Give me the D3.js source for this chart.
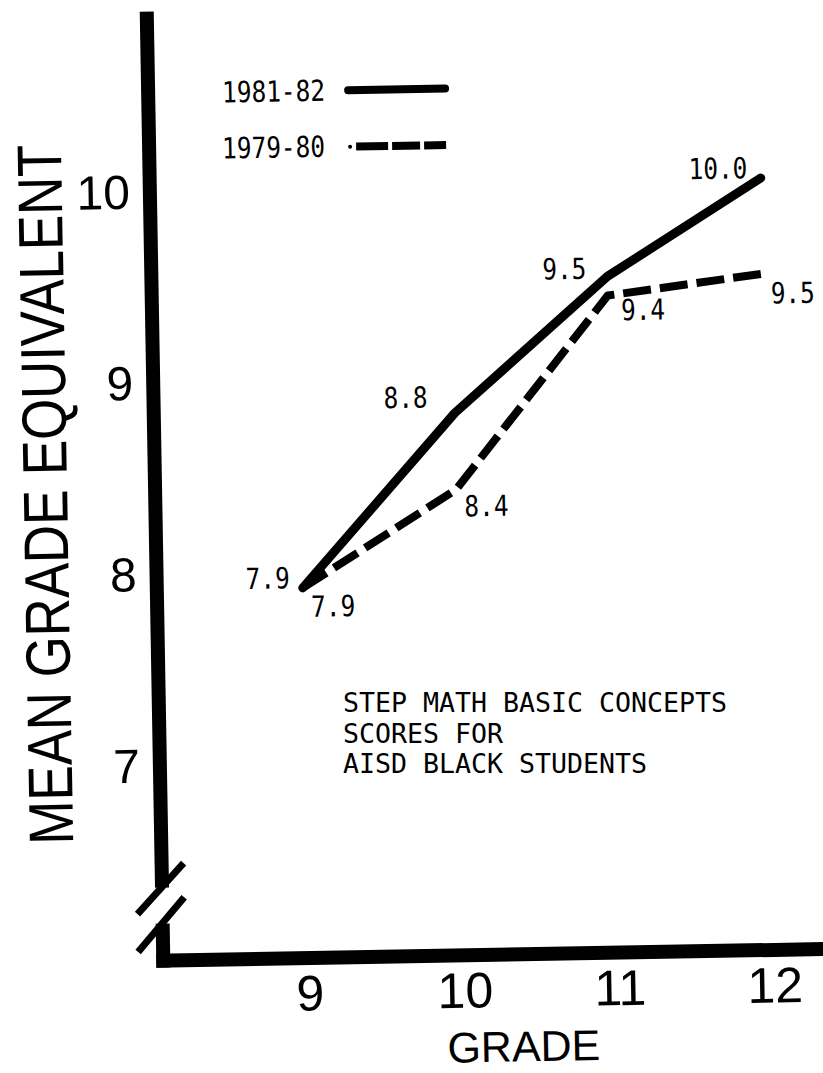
<!DOCTYPE html>
<html>
<head>
<meta charset="utf-8">
<script src="https://cdn.jsdelivr.net/npm/d3@7"></script>
<style>
  body { margin: 0; background: #fff; }
</style>
</head>
<body>
<div id="chart"></div>
<script>
// values
var grades = [9, 10, 11, 12];
var scores8182 = [7.9, 8.8, 9.5, 10.0];
var scores7980 = [7.9, 8.4, 9.4, 9.5];
var yTicks = [7, 8, 9, 10];
var seriesNames = ["1981-82", "1979-80"];
var noteLines = ["STEP MATH BASIC CONCEPTS", "SCORES FOR", "AISD BLACK STUDENTS"];
var xTitle = "GRADE";
var yTitle = "MEAN GRADE EQUIVALENT";

function drawChart(contId) {
    var w = 823;
    var h = 1073;
    var sansFont = "'Liberation Sans', Arial, Helvetica, sans-serif";
    var typeFont = "'DejaVu Sans Mono', 'Liberation Mono', monospace"; // closest thing to the typewriter text

    var svg = d3.select(contId)
        .append("svg")
        .attr("width", w)
        .attr("height", h);

    svg.append("rect").attr("width", w).attr("height", h).attr("fill", "#fff");

    // the scan is a little crooked, so tilt everything by a degree
    var g = svg.append("g")
        .attr("transform", "rotate(-1, 480, 540)");

    var x = d3.scaleLinear().domain([9, 12]).range([302, 767]);
    var y = d3.scaleLinear().domain([7, 10]).range([757, 183]);

    var axisX = 156;  // left axis position
    var axisY = 955;  // bottom axis position
    var axisW = 14;   // thick hand drawn look

    // typed text helper, squeezes the mono font a bit
    function typed(sel, str, px, py, adv, size) {
        return sel.append("text")
            .attr("x", px)
            .attr("y", py)
            .attr("textLength", str.length * adv)
            .attr("lengthAdjust", "spacingAndGlyphs")
            .style("font-family", typeFont)
            .style("font-size", size + "px")
            .style("fill", "#000")
            .text(str);
    }

    // left axis with a break near the bottom
    g.append("line")
        .attr("x1", axisX).attr("x2", axisX)
        .attr("y1", 6).attr("y2", 882)
        .attr("stroke", "#000").attr("stroke-width", axisW);
    g.append("line")
        .attr("x1", axisX).attr("x2", axisX)
        .attr("y1", 918).attr("y2", axisY + axisW / 2)
        .attr("stroke", "#000").attr("stroke-width", axisW);

    // the two break slashes
    [[131, 908, 178, 858], [131, 946, 178, 892]].forEach(function(s) {
        g.append("line")
            .attr("x1", s[0]).attr("y1", s[1])
            .attr("x2", s[2]).attr("y2", s[3])
            .attr("stroke", "#000").attr("stroke-width", 7);
    });

    // bottom axis runs off the right edge
    g.append("line")
        .attr("x1", axisX - axisW / 2).attr("x2", w + 20)
        .attr("y1", axisY).attr("y2", axisY)
        .attr("stroke", "#000").attr("stroke-width", axisW);

    // tick labels only, the lines are drawn above
    var yAxis = g.append("g")
        .attr("transform", "translate(" + axisX + ",0)")
        .call(d3.axisLeft(y).tickValues(yTicks).tickSize(0).tickPadding(20).tickFormat(d3.format("d")));
    yAxis.select(".domain").remove();
    yAxis.selectAll("text")
        .attr("dy", "0.4em")
        .style("font-family", sansFont)
        .style("font-size", "48px")
        .style("fill", "#000");

    var xAxis = g.append("g")
        .attr("transform", "translate(0," + axisY + ")")
        .call(d3.axisBottom(x).tickValues(grades).tickSize(0).tickPadding(17).tickFormat(d3.format("d")));
    xAxis.select(".domain").remove();
    xAxis.selectAll("text")
        .style("font-family", sansFont)
        .style("font-size", "50px")
        .style("fill", "#000");

    g.append("text")
        .attr("x", 515)
        .attr("y", 1062)
        .attr("text-anchor", "middle")
        .style("font-family", sansFont)
        .style("font-size", "43px")
        .text(xTitle);

    g.append("text")
        .attr("transform", "translate(68,487) rotate(-90)")
        .attr("text-anchor", "middle")
        .attr("textLength", 700)
        .attr("lengthAdjust", "spacingAndGlyphs")
        .style("font-family", sansFont)
        .style("font-size", "63px")
        .text(yTitle);

    var line = d3.line()
        .x(function(d) { return x(d.grade); })
        .y(function(d) { return y(d.score); });

    var data8182 = grades.map(function(gr, i) { return { grade: gr, score: scores8182[i] }; });
    var data7980 = grades.map(function(gr, i) { return { grade: gr, score: scores7980[i] }; });

    g.append("path")
        .datum(data7980)
        .attr("d", line)
        .attr("fill", "none")
        .attr("stroke", "#000")
        .attr("stroke-width", 8)
        .attr("stroke-dasharray", "28,9")
        .attr("stroke-linejoin", "round");

    g.append("path")
        .datum(data8182)
        .attr("d", line)
        .attr("fill", "none")
        .attr("stroke", "#000")
        .attr("stroke-width", 9)
        .attr("stroke-linecap", "round")
        .attr("stroke-linejoin", "round");

    // value labels, nudged to where they sit on the original
    var offs8182 = [[-57, 0], [-71, -6], [-65, 2], [-72, 0]];
    var offs7980 = [[8, 29], [8, 27], [13, 25], [8, 30]];

    data8182.forEach(function(d, i) {
        var s = d.score.toFixed(1);
        typed(g, s, x(d.grade) + offs8182[i][0], y(d.score) + offs8182[i][1], 14.7, 29);
    });
    data7980.forEach(function(d, i) {
        var s = d.score.toFixed(1);
        typed(g, s, x(d.grade) + offs7980[i][0], y(d.score) + offs7980[i][1], 14.7, 29);
    });

    // legend
    typed(g, seriesNames[0], 230, 98, 14.7, 29);
    g.append("line")
        .attr("x1", 356).attr("x2", 453)
        .attr("y1", 88).attr("y2", 88)
        .attr("stroke", "#000").attr("stroke-width", 8)
        .attr("stroke-linecap", "round");

    typed(g, seriesNames[1], 229, 154, 14.7, 29);
    g.append("circle")
        .attr("cx", 357).attr("cy", 144.5).attr("r", 2)
        .attr("fill", "#000");
    g.append("line")
        .attr("x1", 363).attr("x2", 453)
        .attr("y1", 144.5).attr("y2", 144.5)
        .attr("stroke", "#000").attr("stroke-width", 8)
        .attr("stroke-dasharray", "32,4,28,4");

    // note block, kept level so the lines don't run into each other
    noteLines.forEach(function(t, i) {
        typed(svg, t, 343, 712 + i * 30.5, 16, 26);
    });
}

drawChart("#chart");
</script>
</body>
</html>
